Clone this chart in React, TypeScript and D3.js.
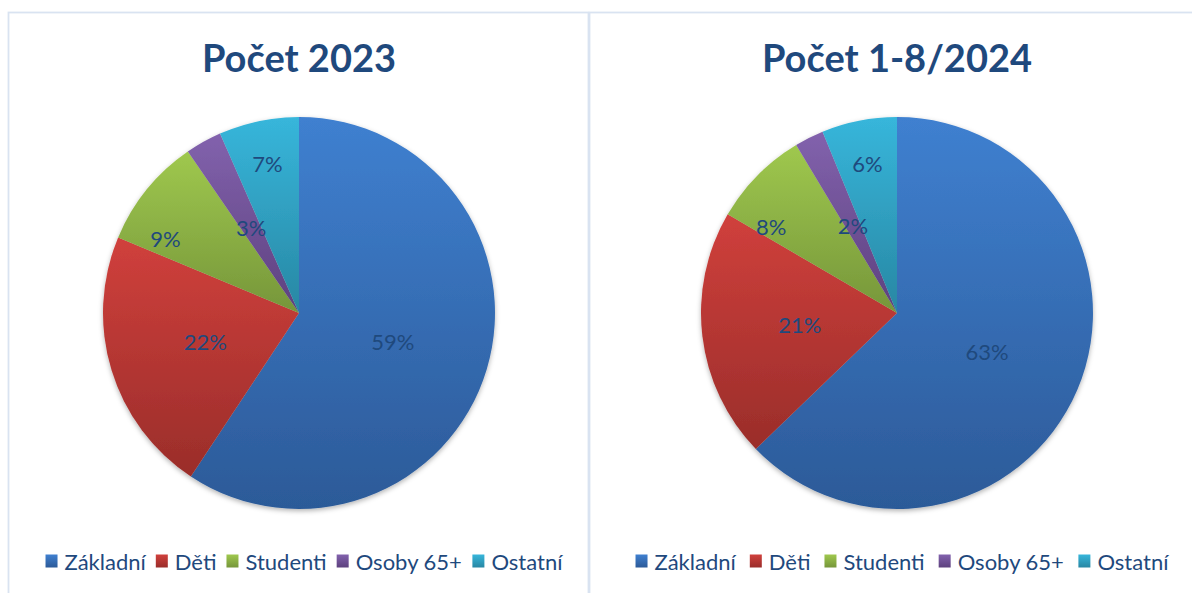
import React from 'react';
import * as d3 from 'd3';

const categories = ['Základní', 'Děti', 'Studenti', 'Osoby 65+', 'Ostatní'];
const values2023 = [59.3, 22.0, 9.1, 3.0, 6.6];
const values2024 = [62.8, 20.6, 8.0, 2.4, 6.2];
const titles = ['Počet 2023', 'Počet 1-8/2024'];

const colorTop = ['#3f80d0', '#d0403c', '#9fc84e', '#8262ad', '#37b6db'];
const colorBottom = ['#2c5a98', '#9a2d2a', '#76963a', '#5d417e', '#2887a3'];
const labelRadius = [0.5, 0.5, 0.78, 0.5, 0.78];
const labelShift = [0, 0, -10, 0, 0];

const FONT = 'Lato, "Noto Sans", sans-serif';
const TEXT_COLOR = '#1f497d';

function measure(text: string, font: string): number {
  const c = document.createElement('canvas');
  const ctx = c.getContext('2d')!;
  ctx.font = font;
  return ctx.measureText(text).width;
}

type PanelProps = {
  id: string;
  title: string;
  values: number[];
  cx: number;
  legendGap: number;
};

function Panel({ id, title, values, cx, legendGap }: PanelProps) {
  const cy = 313;
  const R = 196;
  const pie = d3.pie<number>().sort(null).value((d) => d)(values);
  const arc = d3.arc<d3.PieArcDatum<number>>().innerRadius(0).outerRadius(R);
  const total = d3.sum(values);

  const legendFontSize = 22;
  const sq = 12;
  const sqGap = 7;
  const widths = categories.map((c) => measure(c, `${legendFontSize}px ${FONT}`));
  const itemW = widths.map((w) => sq + sqGap + w);
  const totalW = d3.sum(itemW) + legendGap * (categories.length - 1);
  let x0 = cx + 5 - totalW / 2;
  const legendX: number[] = [];
  itemW.forEach((w) => {
    legendX.push(x0);
    x0 += w + legendGap;
  });
  const ly = 561;

  return (
    <g>
      <defs>
        {categories.map((_, i) => (
          <linearGradient key={i} id={`${id}-g${i}`} x1="0" y1="0" x2="0" y2="1">
            <stop offset="0%" stopColor={colorTop[i]} />
            <stop offset="100%" stopColor={colorBottom[i]} />
          </linearGradient>
        ))}
      </defs>
      <text
        x={cx}
        y={72}
        textAnchor="middle"
        fontFamily={FONT}
        fontWeight="bold"
        fontSize={38}
        fill={TEXT_COLOR}
      >
        {title}
      </text>
      <g transform={`translate(${cx},${cy})`} filter="url(#shadow)">
        {pie.map((p, i) => (
          <path key={i} d={arc(p) || ''} fill={`url(#${id}-g${i})`} />
        ))}
      </g>
      <g transform={`translate(${cx},${cy})`}>
        {pie.map((p, i) => {
          const a = (p.startAngle + p.endAngle) / 2 + (labelShift[i] * Math.PI) / 180;
          const r = R * labelRadius[i];
          return (
            <text
              key={i}
              x={r * Math.sin(a)}
              y={-r * Math.cos(a)}
              textAnchor="middle"
              dominantBaseline="central"
              fontFamily={FONT}
              fontSize={22}
              fill={TEXT_COLOR}
            >
              {`${Math.round((p.value / total) * 100)}%`}
            </text>
          );
        })}
      </g>
      <g>
        {categories.map((c, i) => (
          <g key={c}>
            <rect x={legendX[i]} y={ly - 6.5} width={sq} height={13} fill={`url(#${id}-g${i})`} />
            <text
              x={legendX[i] + sq + sqGap}
              y={ly}
              dominantBaseline="central"
              fontFamily={FONT}
              fontSize={legendFontSize}
              fill={TEXT_COLOR}
            >
              {c}
            </text>
          </g>
        ))}
      </g>
    </g>
  );
}

export default function App() {
  return (
    <svg
      width={1192}
      height={593}
      style={{ position: 'absolute', left: 0, top: 0, background: '#fff' }}
    >
      <defs>
        <filter id="shadow" x="-20%" y="-20%" width="140%" height="140%">
          <feDropShadow dx="0" dy="2" stdDeviation="2.5" floodColor="#000" floodOpacity="0.3" />
        </filter>
      </defs>
      <rect x={0} y={0} width={1192} height={593} fill="#fff" />
      <rect x={8.5} y={12.5} width={580} height={620} fill="none" stroke="#d9e3f1" strokeWidth={1.8} />
      <rect x={589.5} y={12.5} width={640} height={620} fill="none" stroke="#d9e3f1" strokeWidth={1.8} />
      <Panel id="p1" title={titles[0]} values={values2023} cx={299} legendGap={10} />
      <Panel id="p2" title={titles[1]} values={values2024} cx={897} legendGap={14} />
    </svg>
  );
}
